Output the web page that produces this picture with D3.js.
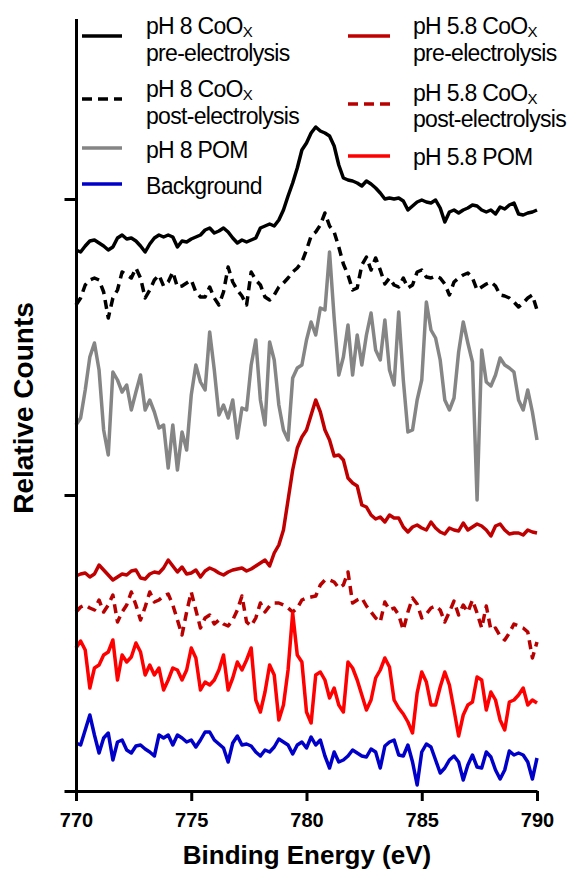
<!DOCTYPE html>
<html>
<head>
<meta charset="utf-8">
<script src="https://cdn.jsdelivr.net/npm/d3@7"></script>
<style>
body { margin: 0; background: #fff; }
text { font-family: "Liberation Sans", Arial, sans-serif; }
</style>
</head>
<body>
<div id="chart-area"></div>
<script>
// binding energy grid (eV)
var energies = [
  770,770.2,770.4,770.6,770.8,771,771.2,771.4,771.6,771.8,
  772,772.2,772.4,772.6,772.8,773,773.2,773.4,773.6,773.8,
  774,774.2,774.4,774.6,774.8,775,775.2,775.4,775.6,775.8,
  776,776.2,776.4,776.6,776.8,777,777.2,777.4,777.6,777.8,
  778,778.2,778.4,778.6,778.8,779,779.2,779.4,779.6,779.8,
  780,780.2,780.4,780.6,780.8,781,781.2,781.4,781.6,781.8,
  782,782.2,782.4,782.6,782.8,783,783.2,783.4,783.6,783.8,
  784,784.2,784.4,784.6,784.8,785,785.2,785.4,785.6,785.8,
  786,786.2,786.4,786.6,786.8,787,787.2,787.4,787.6,787.8,
  788,788.2,788.4,788.6,788.8,789,789.2,789.4,789.6,789.8,
  790
];

// relative counts, stacked traces (arbitrary units)
var ph8Pre = [
  541,539,545,550,551,548,545,541,544,553,
  556,552,553,550,545,539,547,553,556,554,
  556,554,544,550,549,552,554,556,561,563,
  558,560,563,559,553,548,551,549,551,553,
  563,565,567,565,571,581,595,608,623,641,
  648,658,664,660,658,655,645,626,613,611,
  610,608,605,610,607,603,598,592,593,592,
  593,590,581,585,589,591,589,588,591,583,
  569,579,581,578,581,583,586,585,581,579,
  581,577,584,582,586,588,577,576,578,579,
  581
];
var ph8Post = [
  486,493,506,511,513,511,499,473,493,501,
  519,516,513,523,513,493,501,511,516,505,
  509,519,504,505,508,511,499,494,494,504,
  493,486,499,524,509,501,495,486,519,511,
  506,494,491,496,504,508,513,519,523,529,
  541,555,559,566,578,565,559,544,527,516,
  501,503,526,534,521,533,521,507,513,506,
  504,513,503,506,519,521,514,513,515,513,
  507,496,509,513,516,518,513,501,504,507,
  509,505,496,495,493,489,484,488,493,496,
  481
];
var ph8Pom = [
  366,373,401,434,448,421,361,336,419,411,
  399,406,381,399,416,381,391,379,363,366,
  323,366,321,359,341,396,426,409,401,459,
  421,376,386,373,391,353,383,381,426,451,
  391,366,449,431,386,361,351,413,423,426,
  451,469,456,483,481,539,473,416,434,466,
  416,456,426,456,478,441,431,471,421,406,
  479,411,359,361,391,411,489,461,453,431,
  391,381,393,439,469,448,429,291,441,409,
  405,416,433,426,423,419,391,381,401,379,
  351
];
var background = [
  48,46,61,76,56,38,53,58,31,49,
  51,41,38,45,46,42,39,35,56,53,
  56,46,56,53,49,51,44,51,59,59,
  51,47,43,29,48,55,46,47,45,39,
  35,41,39,44,52,49,46,37,46,49,
  43,54,46,51,35,23,39,29,31,35,
  41,38,35,34,42,39,23,45,49,51,
  36,35,46,29,6,39,47,44,31,18,
  23,31,35,29,11,26,36,24,23,39,
  34,21,12,21,40,36,38,36,29,12,
  33
];
var ph58Pre = [
  215,217,218,214,217,226,221,216,211,214,
  217,216,220,221,213,212,217,219,218,223,
  231,225,219,224,217,218,221,214,220,223,
  221,218,216,219,221,222,223,220,222,225,
  228,231,225,238,246,261,291,321,343,354,
  361,376,391,379,361,351,335,336,331,313,
  308,305,286,284,276,272,274,269,276,273,
  273,264,259,264,266,263,261,269,263,259,
  257,263,261,260,268,261,264,267,265,261,
  255,265,267,261,257,258,258,256,261,259,
  258
];
var ph58Post = [
  179,184,186,183,181,191,179,186,196,169,
  179,186,199,186,171,184,199,189,191,195,
  197,186,171,156,179,199,181,163,173,176,
  167,171,167,165,171,181,195,169,165,173,
  188,179,185,188,188,186,183,179,183,191,
  193,194,195,206,211,211,209,203,206,219,
  188,191,193,185,179,173,169,189,181,183,
  176,161,179,193,187,173,177,183,185,181,
  169,179,190,176,186,179,191,178,163,185,
  161,163,155,151,158,167,165,163,159,133,
  149
];
var ph58Pom = [
  143,150,141,103,123,126,136,139,151,111,
  136,129,134,148,139,116,126,116,123,101,
  111,123,121,111,121,143,133,101,109,106,
  111,121,136,101,113,129,121,131,143,91,
  79,99,126,116,71,86,121,178,136,129,
  79,68,116,119,111,93,103,86,79,129,
  123,111,96,81,91,113,121,133,124,91,
  83,77,69,58,98,119,109,86,86,104,
  119,106,81,55,76,86,89,114,111,81,
  99,91,71,61,89,91,96,103,86,91,
  88
];

var xTicks = [770, 775, 780, 785, 790];
var yTicks = [0, 296, 592];
var seriesLabels = [
  ["pH 8 CoO|X", "pre-electrolysis"],
  ["pH 8 CoO|X", "post-electrolysis"],
  ["pH 8 POM"],
  ["Background"],
  ["pH 5.8 CoO|X", "pre-electrolysis"],
  ["pH 5.8 CoO|X", "post-electrolysis"],
  ["pH 5.8 POM"]
];

var margin = {top: 20, right: 32, bottom: 81, left: 76};
var width = 461;
var height = 771;

var svg = d3.select("#chart-area")
  .append("svg")
  .attr("width", width + margin.left + margin.right)
  .attr("height", height + margin.top + margin.bottom);

var g = svg.append("g")
  .attr("transform", "translate(" + margin.left + ", " + margin.top + ")");

var x = d3.scaleLinear().domain([770, 790]).range([0, width]);
var y = d3.scaleLinear().domain([0, 771]).range([height, 0]);

var series = [
  {values: ph8Pre, color: "#000000", dash: null},
  {values: ph8Post, color: "#000000", dash: "9,6"},
  {values: ph8Pom, color: "#858585", dash: null},
  {values: background, color: "#0000c8", dash: null},
  {values: ph58Pre, color: "#c00000", dash: null},
  {values: ph58Post, color: "#b80000", dash: "9,6"},
  {values: ph58Pom, color: "#ff0000", dash: null}
];

var line = d3.line()
  .x((d, i) => { return x(energies[i]); })
  .y((d) => { return y(d); });

g.selectAll(".trace")
  .data(series)
  .enter().append("path")
  .attr("class", "trace")
  .attr("d", (d) => { return line(d.values); })
  .attr("fill", "none")
  .attr("stroke", (d) => { return d.color; })
  .attr("stroke-width", 3.5)
  .attr("stroke-linejoin", "round")
  .attr("stroke-dasharray", (d) => { return d.dash; });

// axes
var xAxisGroup = g.append("g")
  .attr("transform", "translate(0, " + height + ")")
  .call(d3.axisBottom(x).tickValues(xTicks).tickSize(10).tickSizeOuter(0).tickPadding(12));
xAxisGroup.selectAll("path, line").attr("stroke", "black").attr("stroke-width", 3);
xAxisGroup.attr("font-family", "Liberation Sans, Arial, sans-serif");
xAxisGroup.selectAll("text")
  .attr("font-size", "20px")
  .attr("font-weight", "bold")
  .attr("fill", "black");

var yAxisGroup = g.append("g")
  .call(d3.axisLeft(y).tickValues(yTicks).tickSize(10).tickSizeOuter(0).tickFormat(""));
yAxisGroup.selectAll("path, line").attr("stroke", "black").attr("stroke-width", 3)
  .attr("stroke-linecap", "square");

// axis titles
svg.append("text")
  .attr("x", 307)
  .attr("y", 864)
  .attr("text-anchor", "middle")
  .attr("font-size", "26px")
  .attr("font-weight", "bold")
  .text("Binding Energy (eV)");

svg.append("text")
  .attr("transform", "translate(33, 408) rotate(-90)")
  .attr("text-anchor", "middle")
  .attr("font-size", "28px")
  .attr("font-weight", "bold")
  .text("Relative Counts");

// legend
var legendPos = [
  {x1: 82, x2: 122, ly: 36, tx: 146, ty: [34, 61]},
  {x1: 82, x2: 122, ly: 99, tx: 146, ty: [97, 124]},
  {x1: 82, x2: 122, ly: 148, tx: 146, ty: [158]},
  {x1: 82, x2: 122, ly: 184, tx: 146, ty: [194]},
  {x1: 348, x2: 390, ly: 36, tx: 413, ty: [34, 61]},
  {x1: 348, x2: 390, ly: 104, tx: 413, ty: [101, 127]},
  {x1: 348, x2: 390, ly: 156, tx: 413, ty: [165]}
];

var legend = svg.append("g");
legendPos.forEach((p, i) => {
  legend.append("line")
    .attr("x1", p.x1).attr("x2", p.x2)
    .attr("y1", p.ly).attr("y2", p.ly)
    .attr("stroke", series[i].color)
    .attr("stroke-width", 3.5)
    .attr("stroke-dasharray", series[i].dash ? "10,6" : null);
  seriesLabels[i].forEach((lbl, j) => {
    var parts = lbl.split("|");
    var t = legend.append("text")
      .attr("x", p.tx)
      .attr("y", p.ty[j])
      .attr("font-size", "23px")
      .attr("letter-spacing", "-0.7px")
      .attr("fill", "black");
    t.append("tspan").text(parts[0]);
    if (parts[1]) {
      t.append("tspan").attr("font-size", "15px").attr("dy", 3).text(parts[1]);
    }
  });
});
</script>
</body>
</html>
